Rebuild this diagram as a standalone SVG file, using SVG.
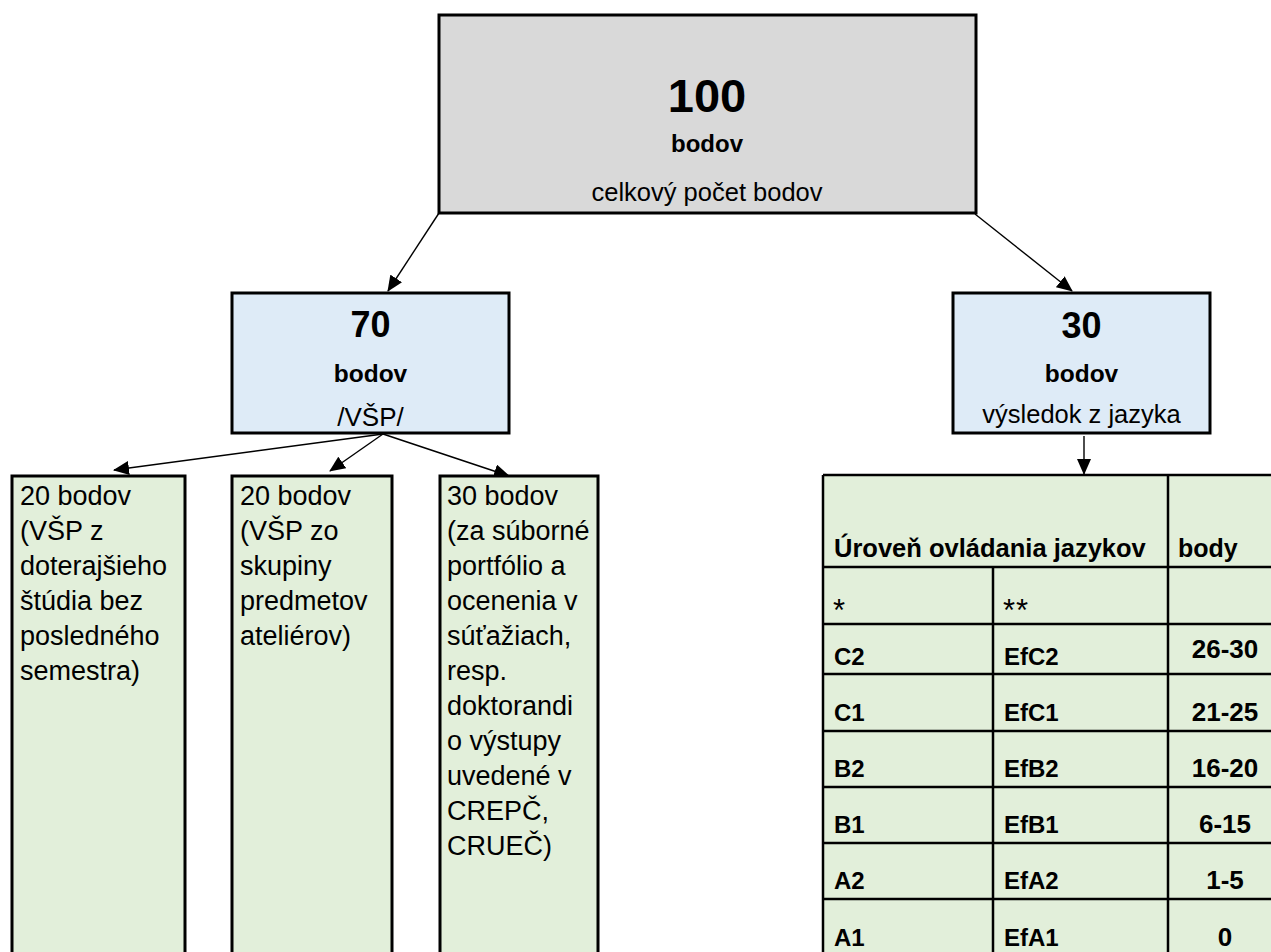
<svg xmlns="http://www.w3.org/2000/svg" width="1271" height="952" viewBox="0 0 1271 952">
<style>
text{font-family:"Liberation Sans",Arial,sans-serif;fill:#000}
.b{font-weight:bold}
.c{text-anchor:middle}
.box{stroke:#000;stroke-width:3}
.grey{fill:#d9d9d9}
.blue{fill:#deebf7}
.green{fill:#e2efda}
.t{font-size:27px}
.tb{font-size:24px;font-weight:bold}
.tn{font-size:26px;font-weight:bold;text-anchor:middle}
.ast{font-size:31px}
.grid{stroke:#000;stroke-width:2.5;fill:none}
.con{stroke:#000;stroke-width:1.4;fill:none;marker-end:url(#ah)}
</style>
<defs>
<marker id="ah" markerUnits="userSpaceOnUse" markerWidth="16" markerHeight="14" refX="15" refY="7" orient="auto">
<path d="M0,0 L16,7 L0,14 z" fill="#000"/>
</marker>
</defs>
<rect width="1271" height="952" fill="#fff"/>
<g id="connectors">
<line class="con" x1="439" y1="213" x2="388" y2="291"/>
<line class="con" x1="975" y1="214" x2="1072" y2="291"/>
<line class="con" x1="383" y1="434" x2="114" y2="470"/>
<line class="con" x1="383" y1="434" x2="330" y2="471"/>
<line class="con" x1="383" y1="434" x2="509" y2="476"/>
<line class="con" x1="1084" y1="436" x2="1084" y2="474"/>
</g>
<g id="total">
<rect class="box grey" x="439" y="15" width="537" height="198"/>
<text class="b c" x="707" y="112" font-size="47">100</text>
<text class="b c" x="707" y="152" font-size="24">bodov</text>
<text class="c" x="707" y="201" font-size="25.5">celkový počet bodov</text>
</g>
<g id="vsp">
<rect class="box blue" x="232" y="293" width="277" height="140"/>
<text class="b c" x="370.5" y="337" font-size="36">70</text>
<text class="b c" x="370.5" y="382" font-size="24.5">bodov</text>
<text class="c" x="370.5" y="426" font-size="26">/VŠP/</text>
</g>
<g id="jazyk">
<rect class="box blue" x="953" y="293" width="257" height="140"/>
<text class="b c" x="1081.5" y="338" font-size="36">30</text>
<text class="b c" x="1081.5" y="382" font-size="24.5">bodov</text>
<text class="c" x="1081.5" y="423" font-size="25.5">výsledok z jazyka</text>
</g>
<g id="box1">
<rect class="box green" x="12" y="476" width="173" height="490"/>
<text class="t" x="20" y="505">20 bodov</text>
<text class="t" x="20" y="540">(VŠP z</text>
<text class="t" x="20" y="575">doterajšieho</text>
<text class="t" x="20" y="610">štúdia bez</text>
<text class="t" x="20" y="645">posledného</text>
<text class="t" x="20" y="680">semestra)</text>
</g>
<g id="box2">
<rect class="box green" x="232" y="476" width="160" height="490"/>
<text class="t" x="240" y="505">20 bodov</text>
<text class="t" x="240" y="540">(VŠP zo</text>
<text class="t" x="240" y="575">skupiny</text>
<text class="t" x="240" y="610">predmetov</text>
<text class="t" x="240" y="645">ateliérov)</text>
</g>
<g id="box3">
<rect class="box green" x="440" y="476" width="158" height="490"/>
<text class="t" x="447" y="505">30 bodov</text>
<text class="t" x="447" y="540">(za súborné</text>
<text class="t" x="447" y="575">portfólio a</text>
<text class="t" x="447" y="610">ocenenia v</text>
<text class="t" x="447" y="645">súťažiach,</text>
<text class="t" x="447" y="680">resp.</text>
<text class="t" x="447" y="715">doktorandi</text>
<text class="t" x="447" y="750">o výstupy</text>
<text class="t" x="447" y="785">uvedené v</text>
<text class="t" x="447" y="820">CREPČ,</text>
<text class="t" x="447" y="855">CRUEČ)</text>
</g>
<g id="table">
<rect x="823" y="475" width="460" height="500" class="green"/>
<path class="grid" d="M823,475 H1283 M823,475 V975 M1168,475 V975 M993,567 V975 M823,567 H1283 M823,624 H1283 M823,674 H1283 M823,731 H1283 M823,787 H1283 M823,843 H1283 M823,899 H1283"/>
<text x="834" y="557" font-size="25.5" class="b">Úroveň ovládania jazykov</text>
<text x="1178" y="557" font-size="25" class="b">body</text>
<text class="ast" x="833" y="621">*</text>
<text class="ast" x="1003" y="621" letter-spacing="1">**</text>
<text class="tb" x="834" y="665">C2</text><text class="tb" x="1004" y="665">EfC2</text><text class="tn" x="1225" y="658">26-30</text>
<text class="tb" x="834" y="721">C1</text><text class="tb" x="1004" y="721">EfC1</text><text class="tn" x="1225" y="721">21-25</text>
<text class="tb" x="834" y="777">B2</text><text class="tb" x="1004" y="777">EfB2</text><text class="tn" x="1225" y="777">16-20</text>
<text class="tb" x="834" y="833">B1</text><text class="tb" x="1004" y="833">EfB1</text><text class="tn" x="1225" y="833">6-15</text>
<text class="tb" x="834" y="889">A2</text><text class="tb" x="1004" y="889">EfA2</text><text class="tn" x="1225" y="889">1-5</text>
<text class="tb" x="834" y="946">A1</text><text class="tb" x="1004" y="946">EfA1</text><text class="tn" x="1225" y="946">0</text>
</g>
</svg>
